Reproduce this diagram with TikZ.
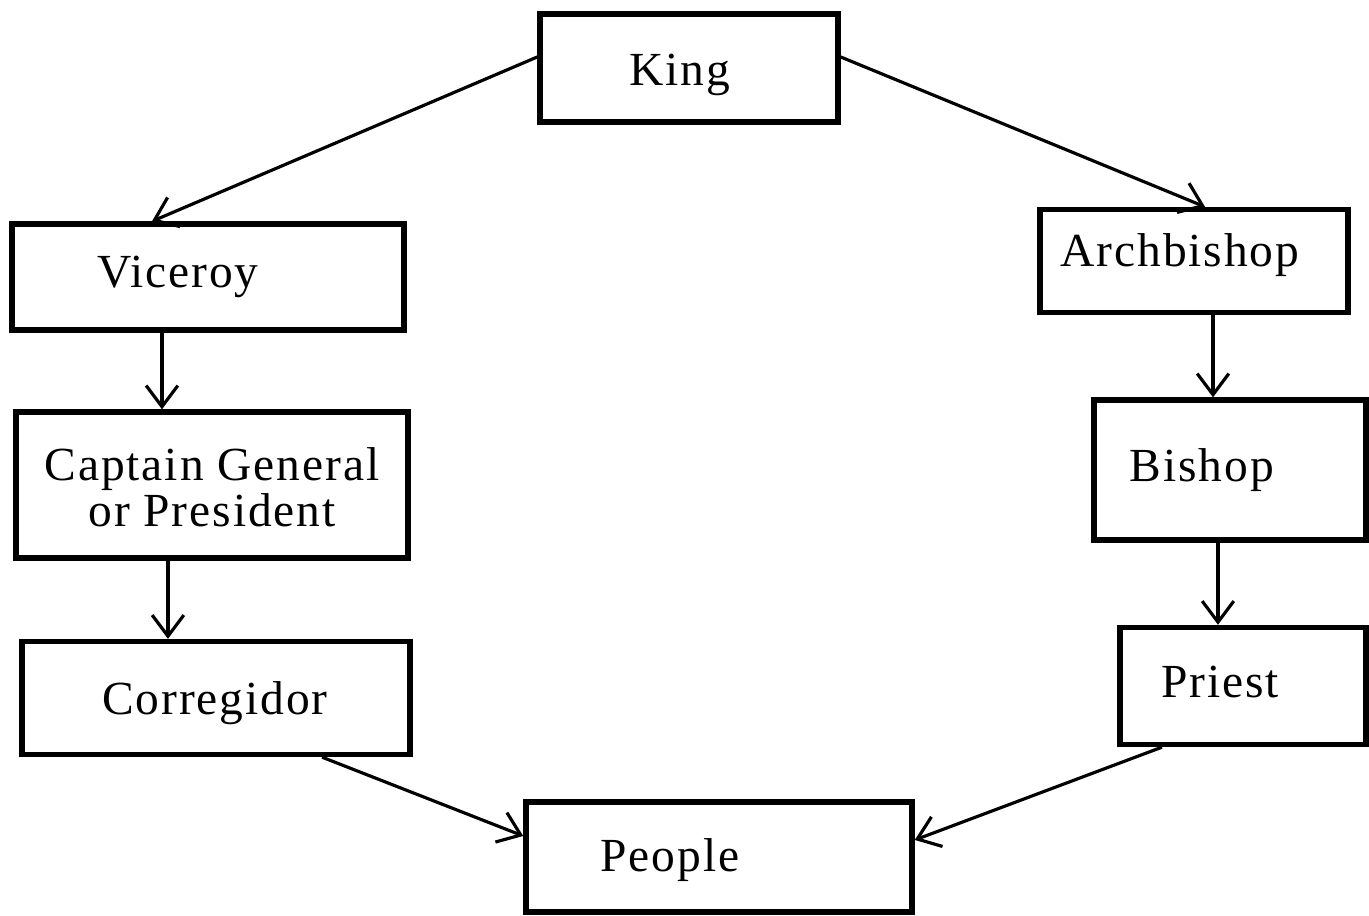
\documentclass[tikz,border=0pt]{standalone}
\usepackage{fontspec}
\setmainfont{Liberation Serif}[LetterSpace=4]
\usetikzlibrary{arrows.meta,calc}
\begin{document}
\begin{tikzpicture}[x=0.01cm,y=-0.01cm,
  box/.style={draw,line width=1.5pt,rectangle,inner sep=0pt},
  lbl/.style={font=\fontsize{13.5}{13}\selectfont,align=center},
  arr/.style={line width=0.9pt,-{Straight Barb[length=6pt,width=9pt,line width=0.9pt]}}]
\useasboundingbox (0,0) rectangle (1369,916);

% offices of the crown
\node[box,minimum width=2.98cm,minimum height=1.08cm] (king) at (689,68) {};
\node[lbl] (kingt) at (680,75) {King};
\node[box,minimum width=3.92cm,minimum height=1.06cm] (viceroy) at (208,277) {};
\node[lbl] (viceroyt) at (178,277) {Viceroy};
\node[box,minimum width=3.92cm,minimum height=1.46cm] (captain) at (212,485) {};
\node[lbl] (captaint) at (212,487) {Captain General\\or President};
\node[box,minimum width=3.88cm,minimum height=1.13cm] (corr) at (216,698) {};
\node[lbl] (corrt) at (215,703) {Corregidor};

% offices of the church
\node[box,minimum width=3.08cm,minimum height=1.03cm] (arch) at (1194,261) {};
\node[lbl] (archt) at (1180,255) {Archbishop};
\node[box,minimum width=2.72cm,minimum height=1.40cm] (bishop) at (1230,470) {};
\node[lbl] (bishopt) at (1202,470) {Bishop};
\node[box,minimum width=2.46cm,minimum height=1.17cm] (priest) at (1243,686) {};
\node[lbl] (priestt) at (1220,682) {Priest};

\node[box,minimum width=3.86cm,minimum height=1.10cm] (people) at (719,857) {};
\node[lbl] (peoplet) at (670,860) {People};

% lines of authority
\draw[arr] ([yshift=0.11cm]king.west) -- ([xshift=-0.56cm]viceroy.north);
\draw[arr] ([yshift=0.11cm]king.east) -- ([xshift=0.11cm]arch.north);
\draw[arr] ([xshift=-0.46cm]viceroy.south) -- ([xshift=-0.46cm]viceroy.south |- captain.north);
\draw[arr] ([xshift=-0.44cm]captain.south) -- ([xshift=-0.44cm]captain.south |- corr.north);
\draw[arr] ([xshift=0.19cm]arch.south) -- ([xshift=0.19cm]arch.south |- bishop.north);
\draw[arr] ([xshift=-0.12cm]bishop.south) -- ([xshift=-0.12cm]bishop.south |- priest.north);
\draw[arr] ([xshift=1.06cm]corr.south) -- ([yshift=0.21cm]people.west);
\draw[arr] ([xshift=-0.81cm]priest.south) -- ([yshift=0.17cm]people.east);
\end{tikzpicture}
\end{document}
